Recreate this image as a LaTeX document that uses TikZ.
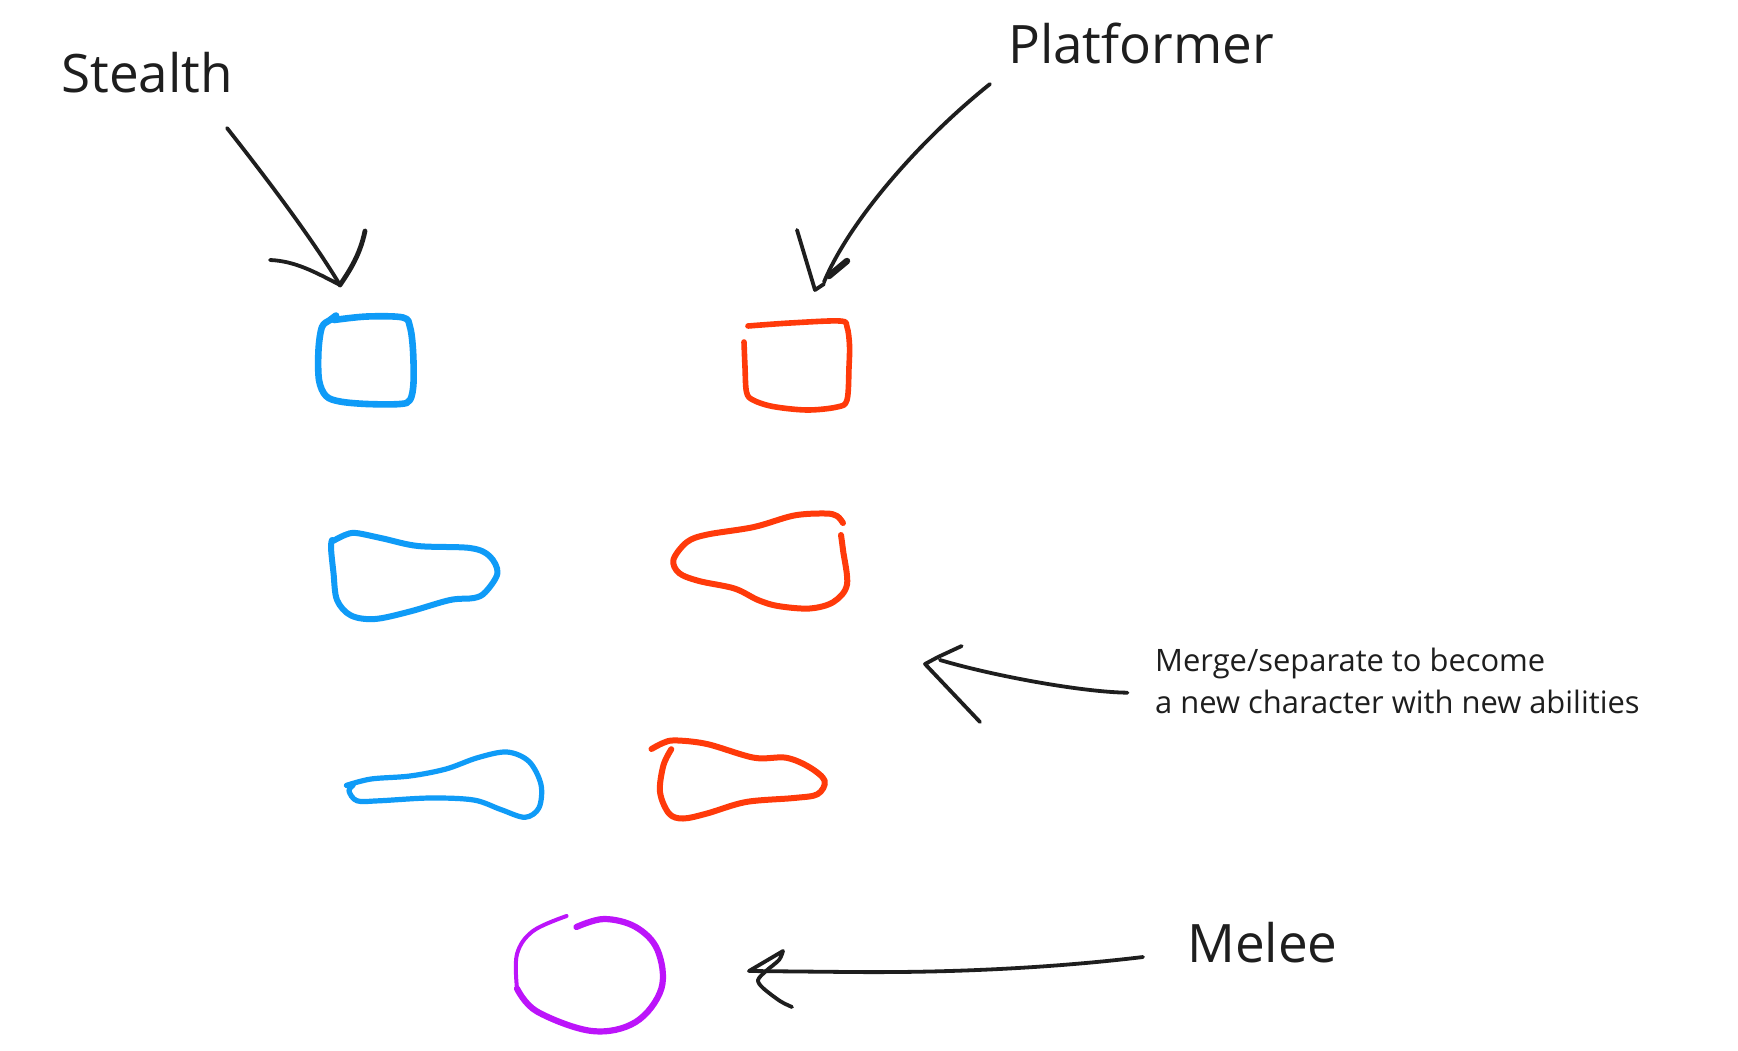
\documentclass[tikz,border=0pt]{standalone}
\usepackage{fontspec}
\setmainfont{Open Sans}
\definecolor{inkc}{HTML}{1E1E1E}
\definecolor{blueink}{HTML}{0F9BF7}
\definecolor{redink}{HTML}{FF3A0A}
\definecolor{purpleink}{HTML}{BC14FA}
\begin{document}
\begin{tikzpicture}[x=1pt,y=-1pt,
  ink/.style={draw=inkc, line width=3.8pt, line cap=round, line join=round},
  blob/.style={line width=6pt, line cap=round, line join=round},
  bigtext/.style={font=\fontsize{53}{63}\selectfont, text=inkc, inner sep=0pt, anchor=base west},
  smalltext/.style={font=\fontsize{30.9}{38}\selectfont, text=inkc, inner sep=0pt, anchor=base west}]
\fill[white] (0,0) rectangle (1738,1050);
\useasboundingbox (0,0) rectangle (1738,1050);

% labels
\node[bigtext] (stealth) at (61,92) {Stealth};
\node[bigtext] (platformer) at (1008,63) {Platformer};
\node[bigtext] (melee) at (1187,962) {Melee};
\node[smalltext] (mergeA) at (1155,671) {Merge/separate to become};
\node[smalltext] (mergeB) at (1155,713) {a new character with new abilities};

% arrow ends
\coordinate (stealthTail) at (227,128);
\coordinate (stealthTip) at (340,285);
\coordinate (platTail) at (990,84);
\coordinate (platTip) at (815,290);
\coordinate (mergeTail) at (1127.5,692.7);
\coordinate (mergeTip) at (925,664);
\coordinate (meleeTail) at (1143,957);
\coordinate (meleeTip) at (749,971);

% blue square
\draw[blob, blueink, line width=6.6pt] plot[smooth, tension=0.55] coordinates {(336,315.5) (330,320) (322,327) (318.5,350) (319,380) (326,396) (340,401.5) (367,404) (400,404) (410,400) (413.5,383) (413,350) (410,327) (403,317.5) (367,316.5) (334,320)};
% red square
\draw[blob, redink, line width=5.6pt] plot[smooth, tension=0.55] coordinates {(748,326) (790,323) (840,321) (847,327) (849.5,345) (849,367) (847,400) (837,407) (807,410) (773,406.5) (753,400) (746.5,392) (745,367) (744,342)};
% blue blob 2
\draw[blob, blueink] plot[smooth, tension=0.55] coordinates {(333,541) (345,535) (356,533) (383,538.5) (418,546) (470,548) (489.5,556) (497.5,573) (485.5,592) (474,598) (450,600) (410,611.5) (375,619) (351,615.5) (337,600) (333.5,573) (331,548) (332,540)};
% red blob 2
\draw[blob, redink] plot[smooth, tension=0.55] coordinates {(843,523) (837,516) (825.5,513.5) (794,515.5) (754,527) (707,534.6) (687,542) (673.5,559.6) (679,573) (699,581) (734.5,588.5) (758,600) (778,606) (809.6,608.5) (833.4,602) (847,584.6) (843,550) (841,535)};
% blue blob 3
\draw[blob, blueink, line width=5.2pt] plot[smooth, tension=0.55] coordinates {(346.4,785.4) (371,779) (410,776) (446,769) (477.6,757.7) (507,752) (529,761.5) (541,784.6) (539,807.7) (525,817.3) (501,809.6) (473.7,800) (430,798) (379,800.8) (357,800.8) (349,791) (353,785.4)};
% red blob 3
\draw[blob, redink] plot[smooth, tension=0.55] coordinates {(651.5,749) (663,743) (675,740.4) (707,744) (754,757.7) (786,757.7) (809.6,767.3) (824.7,780.8) (817.5,794.2) (794,798) (746,802) (707,813.5) (683,818.5) (669,813.5) (660,792) (663.4,765.4) (671.3,749.2)};
% purple circle
\draw[blob, purpleink, line width=4pt] plot[smooth, tension=0.6] coordinates {(566.6,916) (533,931) (517,954) (517,988.5)};
\draw[blob, purpleink, line width=6.2pt] plot[smooth, tension=0.6] coordinates {(517,988.5) (537,1011.5) (592,1031) (635.7,1022) (661.4,988.5) (657.5,950) (635.7,927) (604,919) (576.4,927)};

% Stealth arrow
\draw[ink] (stealthTail) .. controls (260,170) and (310,235) .. (stealthTip);
\draw[ink] (270,260) .. controls (295,261) and (315,272) .. (stealthTip);
\draw[ink, line width=4.8pt] (365,231) .. controls (360,255) and (350,270) .. (stealthTip);

% Platformer arrow
\draw[ink] (platTail) .. controls (920,140) and (850,220) .. (824,282);
\draw[ink] (797,230) -- (platTip) -- (824,284);
\draw[ink, line width=6.5pt] (847,261) -- (829,276);

% Merge arrow
\draw[ink] (mergeTail) .. controls (1080,692) and (990,675) .. (940,660);
\draw[ink] (961.7,646) -- (938,657) -- (mergeTip) -- (980,722);

% Melee arrow
\draw[ink] (meleeTail) .. controls (1060,967) and (960,973) .. (850,972) -- (meleeTip);
\draw[ink] (meleeTip) -- plot[smooth, tension=0.5] coordinates {(783,951) (779,960) (766,971) (758,980) (763,988) (780,1001) (792,1007)};
\end{tikzpicture}
\end{document}
